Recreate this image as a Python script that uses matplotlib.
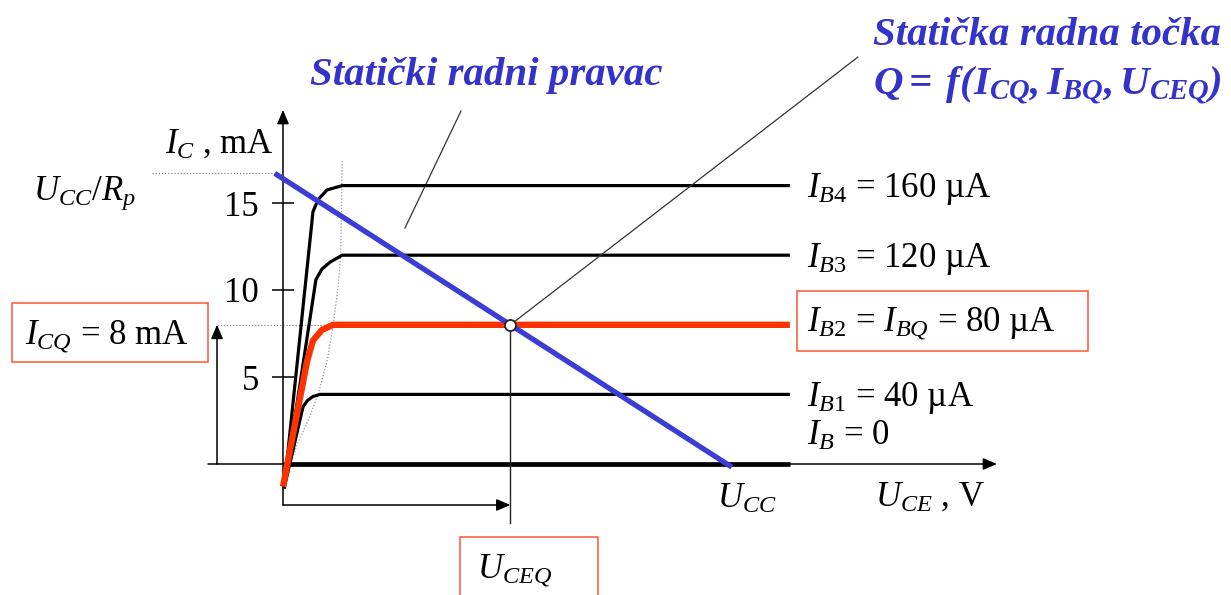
import matplotlib
matplotlib.use('Agg')
import matplotlib.pyplot as plt
from matplotlib import transforms as mtransforms
from matplotlib.patches import Rectangle

plt.rcParams.update({
    'font.family': ['Liberation Serif', 'DejaVu Serif'],
    'mathtext.fontset': 'custom',
    'mathtext.rm': 'Liberation Serif',
    'mathtext.it': 'Liberation Serif:italic',
    'mathtext.bf': 'Liberation Serif:italic:bold',
})

# ---------------- data ----------------
UCC = 12.0          # V, supply voltage (load line end)
UCC_RP = 16.4       # mA, U_CC / R_p
ICQ = 8.0           # mA, quiescent collector current
IB_uA = [0, 40, 80, 120, 160]
IB_names = ['$I_B$', '$I_{B1}$', '$I_{B2}$ = $I_{BQ}$', '$I_{B3}$', '$I_{B4}$']
IC_levels = [0.0, 4.0, 8.0, 12.0, 16.0]
curve_U = [
    [0.0, 13.7],
    [0.03, 0.54, 0.66, 0.81, 1.0, 13.7],
    [0.0, 0.65, 0.81, 1.05, 1.35, 13.7],
    [0.03, 0.89, 1.05, 1.27, 1.6, 13.7],
    [0.03, 0.81, 0.95, 1.19, 1.6, 13.7],
]
curve_I = [
    [0.0, 0.0],
    [-1.4, 3.28, 3.65, 3.88, 4.0, 4.0],
    [-1.3, 5.9, 7.1, 7.7, 8.0, 8.0],
    [-1.4, 10.6, 11.2, 11.6, 12.0, 12.0],
    [-1.4, 14.5, 15.2, 15.75, 16.0, 16.0],
]
sat_U = [0.2, 0.4, 0.7, 0.95, 1.2, 1.35, 1.48, 1.56, 1.6]
sat_I = [0.0, 1.2, 2.6, 4.0, 6.0, 7.9, 10.0, 12.0, 17.5]
y_ticks = [5, 10, 15]
load_U = [-0.22, 12.13]   # drawn load line slightly overshoots both axes

UCEQ = UCC * (1 - ICQ / UCC_RP)     # Q point lies on the load line
load_I = [UCC_RP * (1 - u / UCC) for u in load_U]

# ---------------- layout ----------------
W, H = 1231, 595
X0, Y0 = 283, 464          # pixel position of origin
PXV, PXI = 37.0, 17.4      # pixels per V, per mA

fig = plt.figure(figsize=(W / 100, H / 100), dpi=100)
ax = fig.add_axes([0, 0, 1, 1])
ax.set_xlim(-X0 / PXV, (W - X0) / PXV)
ax.set_ylim((Y0 - H) / PXI, Y0 / PXI)
for s in ax.spines.values():
    s.set_visible(False)
ax.spines['left'].set_position(('data', 0))
ax.set_xticks([])
ax.set_yticks(y_ticks)
ax.set_yticklabels([str(t) for t in y_ticks])
ax.tick_params(axis='y', direction='inout', length=16.5, width=1.1, pad=9,
               labelsize=25, colors='black')

# pixel transform (origin top-left)
T = mtransforms.Affine2D().scale(1 / 100, -1 / 100).translate(0, H / 100) + fig.dpi_scale_trans

def pu(px):
    return (px - X0) / PXV

def pi(py):
    return (Y0 - py) / PXI

arrow = dict(arrowstyle='-|>,head_length=0.7,head_width=0.3', lw=1.1, color='black',
             mutation_scale=12, shrinkA=0, shrinkB=0)

# axes arrows
ax.annotate('', xy=(0, pi(110)), xytext=(0, pi(505)), arrowprops=arrow)
ax.annotate('', xy=(pu(997), 0), xytext=(pu(208), 0), arrowprops=arrow)

# saturation boundary (dotted)
ax.plot(sat_U, sat_I, color='#999999', lw=0.9, ls=(0, (1, 1.5)), zorder=2)

# output characteristics
for k, (U, I) in enumerate(zip(curve_U, curve_I)):
    if k == 2:
        col, lw, z = '#ff3300', 4.6, 4
    elif k == 0:
        col, lw, z = 'black', 3.4, 3
    else:
        col, lw, z = 'black', 2.3, 3
    ax.plot(U, I, color=col, lw=lw, solid_capstyle='butt', solid_joinstyle='round', zorder=z)

# curve labels
lab_off = [1.09, -0.65, -0.35, -0.65, -0.65]
for name, ua, lvl, off in zip(IB_names, IB_uA, IC_levels, lab_off):
    txt = f'{name} = 0' if ua == 0 else f'{name} = {ua} µA'
    ax.text(pu(807), lvl + off, txt, fontsize=25, ha='left', va='baseline', zorder=6)

# load line
ax.plot(load_U, load_I, color='#3c3cd6', lw=3.8, solid_capstyle='butt', zorder=5)

# dotted guides
ax.plot([pu(152), load_U[0]], [load_I[0], load_I[0]], color='#888888', lw=0.9,
        ls=(0, (1, 1.5)), zorder=2)
ax.plot([pu(217), UCEQ], [ICQ, ICQ], color='#888888', lw=0.9, ls=(0, (1, 1.5)), zorder=2)

# I_CQ arrow and U_CEQ markers
ax.annotate('', xy=(pu(217), ICQ), xytext=(pu(217), 0), arrowprops=arrow)
ax.plot([UCEQ, UCEQ], [ICQ, pi(523)], color='#222222', lw=1.0, zorder=3)
ax.annotate('', xy=(UCEQ, pi(505)), xytext=(0, pi(505)), arrowprops=arrow)

# callout lines
ax.plot([405, 461], [228, 111], color='#333333', lw=0.9, transform=T, clip_on=False)
ax.annotate('', xy=(858, 57), xycoords=T, xytext=(UCEQ, ICQ), textcoords='data',
            arrowprops=dict(arrowstyle='-', lw=0.9, color='#333333', shrinkA=0, shrinkB=0))

# Q point
ax.plot([UCEQ], [ICQ], 'o', ms=8, mfc='white', mec='#222222', mew=1.3, zorder=10)

# text labels
ax.text(165, 153, '$I_C$ , mA', transform=T, fontsize=25, va='baseline')
ax.text(33, 200, '$U_{CC}/R_p$', transform=T, fontsize=25, va='baseline')
ax.text(25, 343, f'$I_{{CQ}}$ = {ICQ:g} mA', transform=T, fontsize=25, va='baseline')
ax.text(477, 577, '$U_{CEQ}$', transform=T, fontsize=25, va='baseline')
ax.text(717, 508, '$U_{CC}$', transform=T, fontsize=25, va='baseline')
ax.text(875, 506, '$U_{CE}$ , V', transform=T, fontsize=25, va='baseline')

blue_txt = '#3333cc'
ax.text(310, 85, 'Statički radni pravac', transform=T, fontsize=29.4, fontweight='bold',
        fontstyle='italic', color=blue_txt, va='baseline')
ax.text(873, 45, 'Statička radna točka', transform=T, fontsize=29.4, fontweight='bold',
        fontstyle='italic', color=blue_txt, va='baseline')
ax.text(873, 95, r'$\mathbf{Q{=}\;f(I_{CQ},I_{BQ},U_{CEQ})}$', transform=T,
        fontsize=29.4, color=blue_txt, va='baseline')

# red boxes
box_col = '#ff5533'
for (x0, y0, x1, y1) in [(797, 291, 1088, 351), (12, 303, 208, 362), (460, 537, 598, 605)]:
    ax.add_patch(Rectangle((x0, y1), x1 - x0, y0 - y1, transform=T, fill=False,
                           ec=box_col, lw=1.1, clip_on=False, zorder=7))

fig.savefig('out.png', dpi=100, facecolor='white')
